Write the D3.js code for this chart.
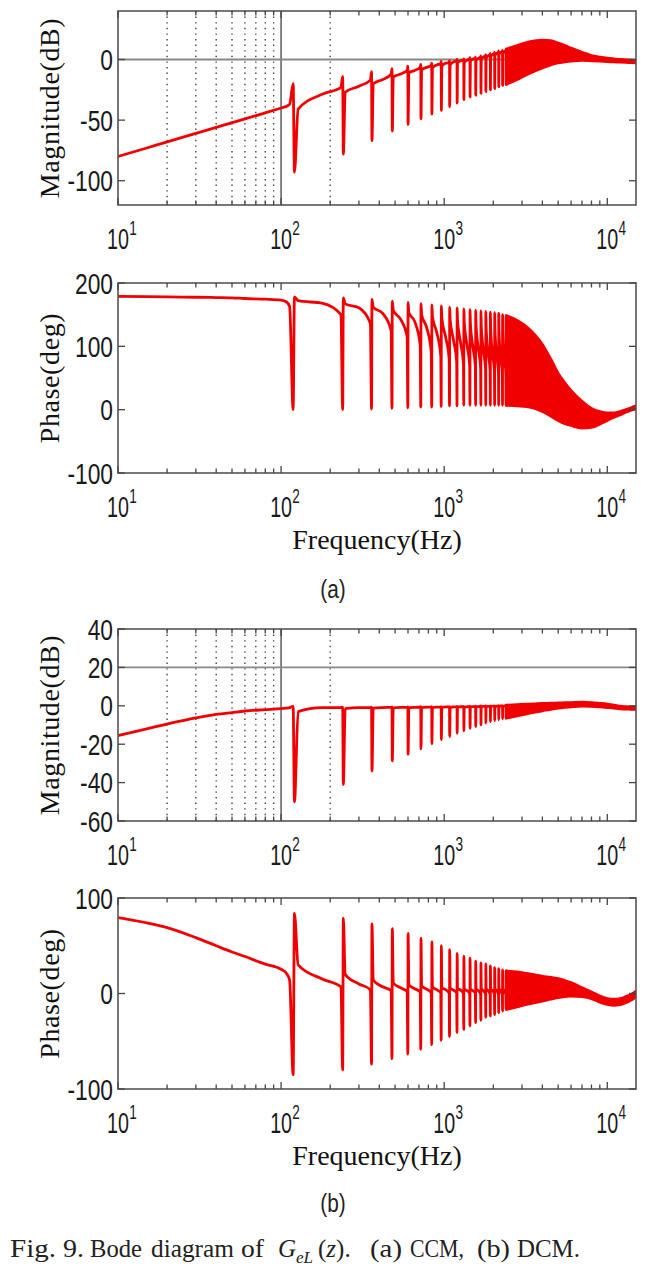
<!DOCTYPE html>
<html><head><meta charset="utf-8">
<script src="https://cdn.jsdelivr.net/npm/d3@7"></script>
<style>body{margin:0;background:#fff} svg{display:block}</style>
</head><body>
<svg id="c" width="656" height="1267"></svg>
<script>
// ---------- shared categories ----------
const harmonics = [120,240,360,480,600,720,840,960,1080,1200,1320,1440,1560,1680,1800,1920,2040,2160,2280,2400];
const lowFreq = [10,15,20,30,40,50,60,80,100,108];
const bandFreq = [2400,2800,3200,3600,4000,4500,5000,5500,6000,7000,8000,9000,10000,11000,12000,13000,14000,15000];
const xTickDecades = [10,100,1000,10000];
const xTickExp = ["1","2","3","4"];
const gridDottedX = [20,30,40,50,60,70,80,90,200];
const gridSolidX = [100];

// ---------- (a) CCM magnitude ----------
const magA_ticks = [-100,-50,0];
const magA_gridY = [0];
const magA_low  = [-80,-73,-68,-61,-56,-52,-49,-44,-40,-38.5];
const magA_pre  = [-37,-23,-17,-12,-9,-6.5,-5,-3.5,-2.5,-1,-0.5,0.5,1,2,3,4,5,6,6.5,7.5];
const magA_ext1 = [-20,-14,-10,-7.5,-5.5,-4,-3,-1.5,-1,0,0.5,1.5,2,3,4,5,6,7,7.5,8.5];
const magA_ext2 = [-93,-78,-67,-59,-53.5,-49,-45,-42,-39,-36,-33,-31,-29.5,-28,-26.5,-25,-24,-22.5,-21.5,-20.5];
const magA_post = [-41,-27,-20,-14.5,-11,-8.5,-7,-5.5,-4.5,-3,-2.5,-1.5,-1,0,1,2,3,4,4.5,5.5];
const magA_mid  = [-28.5,-22,-16.5,-12,-9,-6.5,-4.5,-3,-2,-1,-0.5,0.5,1,2,3,4,5,6,6.5,7.5];
const magA_bandHi = [8.5,11.5,14,15.3,16,15.5,13.5,11.5,9.4,6,3.3,2,1.1,0.5,0,-0.3,-0.6,-0.8];
const magA_bandLo = [-20.5,-16.5,-12.5,-9.5,-7,-4.4,-2.8,-2,-1.4,-0.8,-1.1,-1.4,-1.7,-2,-2.2,-2.4,-2.6,-2.8];

// ---------- (a) CCM phase ----------
const phA_ticks = [-100,0,100,200];
const phA_low  = [179,178.5,178,177.5,177,176.5,175.5,174.5,173,170];
const phA_pre  = [163,150,136,125,115,102,92,85,80,76,72,70,68,66,64,62,60,58,56,55];
const phA_ext1 = [0,0,1,2,3,4,4,5,6,6,7,7,7,7,7,7,7,7,7,7];
const phA_ext2 = [178,176.5,174,171.5,169.5,167.5,165.5,164,162,160.5,159,158,157,156,155,154,153,152,150,148.5];
const phA_post = [172,167,162,157,153,150,147,145,143,141,139,137,135,133,131,129,127,125,123,121];
const phA_mid  = [168,161,152,143,139,130,122,115,110,106,102,99,96,93,90,88,86,84,82,80];
const phA_bandHi = [148.5,141,131,118,103,80,57,42,30,13,2,-3,-5,-5,-3,0,3,6];
const phA_bandLo = [7,6,5,2,-3,-10,-17,-22,-25,-29,-28,-23,-17,-12,-8,-4,-1,2];

// ---------- (b) DCM magnitude ----------
const magB_ticks = [-60,-40,-20,0,20,40];
const magB_gridY = [20];
const magB_low  = [-15.5,-12,-9.5,-6.3,-4.5,-3.5,-2.7,-2,-1.5,-1.2];
const magB_pre  = [-1,-0.9,-0.9,-0.8,-0.8,-0.7,-0.7,-0.6,-0.6,-0.5,-0.5,-0.4,-0.4,-0.3,-0.3,-0.2,-0.2,-0.1,-0.1,0];
const magB_ext1 = [-0.3,-0.7,-0.7,-0.6,-0.6,-0.5,-0.5,-0.4,-0.4,-0.3,-0.3,-0.2,-0.2,-0.1,-0.1,0,0,0.1,0.1,0.2];
const magB_ext2 = [-50,-41,-34,-28.7,-25.2,-22.4,-19.8,-17.7,-16,-14.3,-13,-11.7,-10.8,-9.9,-9,-8.4,-7.8,-7.3,-6.8,-6.4];
const magB_post = [-3,-1.5,-1.2,-1.1,-1,-0.9,-0.9,-0.8,-0.8,-0.7,-0.7,-0.6,-0.6,-0.5,-0.5,-0.4,-0.4,-0.3,-0.3,-0.2];
const magB_mid  = [-1,-0.9,-0.9,-0.8,-0.8,-0.7,-0.7,-0.6,-0.6,-0.5,-0.5,-0.4,-0.4,-0.3,-0.3,-0.2,-0.2,-0.1,-0.1,0];
const magB_bandHi = [0.3,0.6,0.8,1.0,1.2,1.35,1.5,1.6,1.7,1.9,1.7,1.3,0.9,0.4,-0.2,-0.5,-0.7,-0.9];
const magB_bandLo = [-6.4,-5.2,-4.2,-3.3,-2.6,-1.8,-1.2,-0.8,-0.5,-0.2,-0.3,-0.6,-0.9,-1.2,-1.6,-1.7,-1.8,-1.9];

// ---------- (b) DCM phase ----------
const phB_ticks = [-100,0,100];
const phB_low  = [79.5,74,69,58.5,50,43.5,38.7,30.7,25.4,21];
const phB_pre  = [14,7,4,3,2,1.5,1,1,0.5,0.5,0,0,0,-0.5,-0.5,-1,-1,-1,-1.5,-1.5];
const phB_ext1 = [-85,-80,-74,-68.5,-63.5,-58.5,-53.5,-49,-45,-41,-37.7,-34,-30.6,-28,-25,-23.6,-22,-20,-18.4,-16.6];
const phB_ext2 = [84,79,73,68,63,58,54,50,46,42,39,37,34,32,31,29,27,26,24.7,23.6];
const phB_post = [30,20,14,11,9,8,7,6,6,5.5,5,5,5,5,5,5,5,5,5,5];
const phB_mid  = [15,10,7,6,5,4.5,4,4,3.5,3.5,3,3,3,3,3,3,3,3,3,3];
const phB_bandHi = [23.6,22.5,21,19.5,18,17,15.6,13.5,11.4,6,1.6,-2.6,-5.4,-6,-5.4,-3.3,-1,2.6];
const phB_bandLo = [-16.6,-14,-11.5,-9.5,-8,-6,-4.4,-3.3,-2.6,-3.3,-5.4,-9,-11.4,-12.4,-11.7,-9.6,-6.8,-3.3];

// ---------- drawing ----------
const svg = d3.select("#c");
const RED = "#f00000";
const LW = 2.8;

const panels = [
  {top:11,  bottom:205,  ydom:[-120,40],  ticks:magA_ticks, title:"Magnitude(dB)", grid:true, gridY:magA_gridY,
   data:[magA_low,magA_pre,magA_ext1,magA_ext2,magA_post,magA_mid,magA_bandHi,magA_bandLo], xlab:false},
  {top:283, bottom:473,  ydom:[-100,200], ticks:phA_ticks, title:"Phase(deg)", grid:false,
   data:[phA_low,phA_pre,phA_ext1,phA_ext2,phA_post,phA_mid,phA_bandHi,phA_bandLo], xlab:true},
  {top:629, bottom:821,  ydom:[-60,40],   ticks:magB_ticks, title:"Magnitude(dB)", grid:true, gridY:magB_gridY,
   data:[magB_low,magB_pre,magB_ext1,magB_ext2,magB_post,magB_mid,magB_bandHi,magB_bandLo], xlab:false},
  {top:898, bottom:1089, ydom:[-100,100], ticks:phB_ticks, title:"Phase(deg)", grid:false,
   data:[phB_low,phB_pre,phB_ext1,phB_ext2,phB_post,phB_mid,phB_bandHi,phB_bandLo], xlab:true}
];
const L = 118, R = 636;
const x = d3.scaleLog().domain([10,15000]).range([L,R]);

panels.forEach((p,pi)=>{
  const y = d3.scaleLinear().domain(p.ydom).range([p.bottom,p.top]);
  const g = svg.append("g");
  const clipId = "clip"+pi;
  svg.append("clipPath").attr("id",clipId).append("rect")
    .attr("x",L).attr("y",p.top).attr("width",R-L).attr("height",p.bottom-p.top);

  // grid
  if(p.grid){
    g.selectAll(".gd").data(gridDottedX).join("line")
      .attr("x1",d=>x(d)).attr("x2",d=>x(d)).attr("y1",p.top).attr("y2",p.bottom)
      .attr("stroke","#444").attr("stroke-width",1.4).attr("stroke-dasharray","1.4,4.2");
    g.selectAll(".gs").data(gridSolidX).join("line")
      .attr("x1",d=>x(d)).attr("x2",d=>x(d)).attr("y1",p.top).attr("y2",p.bottom)
      .attr("stroke","#777").attr("stroke-width",1.8);
    g.selectAll(".gy").data(p.gridY).join("line")
      .attr("x1",L).attr("x2",R).attr("y1",d=>y(d)).attr("y2",d=>y(d))
      .attr("stroke","#888").attr("stroke-width",1.8);
  }

  // data
  const [low,pre,e1,e2,post,mid,bHi,bLo] = p.data;
  const dH = harmonics[1]-harmonics[0];
  const pts = lowFreq.map((f,i)=>[f,low[i]]);
  harmonics.forEach((f,k)=>{
    pts.push([f-0.06*dH, pre[k]]);
    pts.push([f-0.012*dH, e1[k]]);
    pts.push([f+0.006*dH, e2[k]]);
    pts.push([f+0.06*dH, post[k]]);
    pts.push([f+0.5*dH, mid[k]]);
  });
  const cg = g.append("g").attr("clip-path",`url(#${clipId})`);
  const band = bandFreq.map((f,i)=>({f, hi:bHi[i], lo:bLo[i]}));
  cg.append("path").datum(band)
    .attr("d", d3.area().x(d=>x(d.f)).y0(d=>y(d.lo)).y1(d=>y(d.hi)).curve(d3.curveMonotoneX))
    .attr("fill",RED).attr("stroke",RED).attr("stroke-width",LW).attr("stroke-linejoin","round");
  cg.append("path").datum(pts)
    .attr("d", d3.line().x(d=>x(d[0])).y(d=>y(d[1])).curve(d3.curveMonotoneX))
    .attr("fill","none").attr("stroke",RED).attr("stroke-width",LW)
    .attr("stroke-linejoin","round").attr("stroke-linecap","round");

  // box
  g.append("rect").attr("x",L).attr("y",p.top).attr("width",R-L).attr("height",p.bottom-p.top)
    .attr("fill","none").attr("stroke","#555").attr("stroke-width",1.6);

  // x ticks (top & bottom)
  const xt = x.ticks();
  xt.forEach(t=>{
    const major = xTickDecades.includes(t);
    const len = major ? 7 : 4.5;
    const xx = x(t);
    g.append("line").attr("x1",xx).attr("x2",xx).attr("y1",p.bottom).attr("y2",p.bottom-len)
      .attr("stroke","#444").attr("stroke-width",1.3);
    g.append("line").attr("x1",xx).attr("x2",xx).attr("y1",p.top).attr("y2",p.top+len)
      .attr("stroke","#444").attr("stroke-width",1.3);
  });
  // y ticks (left & right)
  p.ticks.forEach(t=>{
    const yy = y(t);
    g.append("line").attr("x1",L).attr("x2",L+7).attr("y1",yy).attr("y2",yy).attr("stroke","#444").attr("stroke-width",1.3);
    g.append("line").attr("x1",R).attr("x2",R-7).attr("y1",yy).attr("y2",yy).attr("stroke","#444").attr("stroke-width",1.3);
    g.append("g").attr("transform",`translate(113,${yy+10.5}) scale(0.76,1)`)
      .append("text").attr("text-anchor","end").attr("font-family","Liberation Sans, Arial, sans-serif")
      .attr("font-size",30).attr("fill","#1a1a1a").text(String(t));
  });
  // x tick labels
  xTickDecades.forEach((t,i)=>{
    const xx = x(t);
    const base = p.bottom + 44;
    const tg = g.append("g").attr("transform",`translate(${xx},${base}) scale(0.68,1)`);
    tg.append("text").attr("text-anchor","middle").attr("font-family","Liberation Sans, Arial, sans-serif")
      .attr("font-size",29).attr("fill","#1a1a1a").text("10");
    tg.append("text").attr("x",16.5).attr("y",-14).attr("font-family","Liberation Sans, Arial, sans-serif")
      .attr("font-size",20).attr("fill","#1a1a1a").text(xTickExp[i]);
  });
  // y title
  g.append("text").attr("transform",`translate(59,${(p.top+p.bottom)/2}) rotate(-90)`)
    .attr("text-anchor","middle").attr("font-family","Liberation Serif, Times New Roman, serif")
    .attr("font-size",28).attr("letter-spacing",0.6).attr("fill","#111").text(p.title);
  if(p.xlab){
    g.append("text").attr("x",(L+R)/2).attr("y",p.bottom+76).attr("text-anchor","middle")
      .attr("font-family","Liberation Serif, Times New Roman, serif")
      .attr("font-size",28).attr("fill","#111").text("Frequency(Hz)");
  }
});

// sub-figure labels
[["(a)",598],["(b)",1212]].forEach(([t,yy])=>{
  svg.append("g").attr("transform",`translate(333,${yy}) scale(0.8,1)`)
    .append("text").attr("text-anchor","middle").attr("font-family","Liberation Sans, Arial, sans-serif")
    .attr("font-size",26).attr("fill","#222").text(t);
});

// caption
const cap = svg.append("text").attr("y",1257).attr("font-family","Liberation Serif, Times New Roman, serif")
  .attr("font-size",25).attr("fill","#222");
const pieces = [
  ["Fig.",10,46],["9.",63,21],["Bode",90,52],["diagram",151,83],["of",241,23]
];
pieces.forEach(([t,xx,w])=>{
  cap.append("tspan").attr("x",xx).attr("y",1257).attr("textLength",w).attr("lengthAdjust","spacingAndGlyphs").text(t);
});
cap.append("tspan").attr("x",278).attr("y",1257).attr("font-style","italic").text("G");
cap.append("tspan").attr("x",296).attr("y",1263).attr("font-style","italic").attr("font-size",17).text("eL");
cap.append("tspan").attr("x",318).attr("y",1257).text("(");
cap.append("tspan").attr("font-style","italic").text("z");
cap.append("tspan").text(").");
const pieces2 = [["(a)",370,32],["CCM,",410,54],["(b)",477,33],["DCM.",517,63]];
pieces2.forEach(([t,xx,w])=>{
  cap.append("tspan").attr("x",xx).attr("y",1257).attr("textLength",w).attr("lengthAdjust","spacingAndGlyphs").text(t);
});
</script>
</body></html>
